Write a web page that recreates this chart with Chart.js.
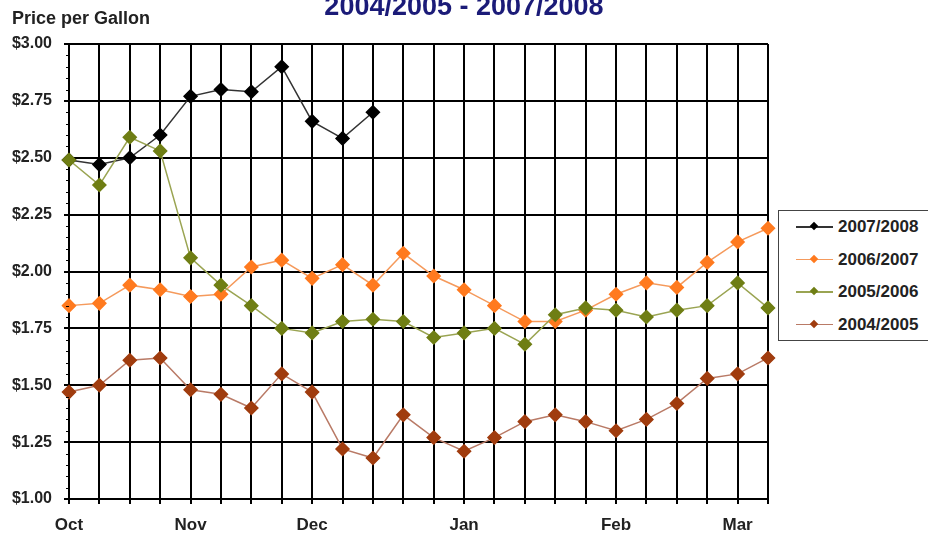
<!DOCTYPE html>
<html>
<head>
<meta charset="utf-8">
<script src="https://cdn.jsdelivr.net/npm/chart.js@4"></script>
<style>
  body { margin: 0; background: #fff; font-family: "Liberation Sans", Arial, sans-serif; }
  #wrap { position: relative; width: 928px; height: 538px; overflow: hidden; }
  #title { position: absolute; left: 0; width: 928px; top: -9px; text-align: center;
           font-weight: bold; font-size: 27px; color: #1b1b78; }
  #ylab { position: absolute; left: 12px; top: 8px; font-weight: bold; font-size: 18px; color: #222; }
  #legend { position: absolute; left: 778px; top: 210px; width: 160px; height: 131px;
            border: 1.5px solid #444; box-sizing: border-box; background: #fff; }
  .row { position: absolute; left: 0; height: 20px; }
  .row .ln { position: absolute; left: 17px; top: 9px; width: 37px; height: 1.5px; }
  .row .mk { position: absolute; left: 32px; top: 6px; width: 6px; height: 6px; transform: rotate(45deg); }
  .row .tx { position: absolute; left: 59px; top: 0; font-weight: bold; font-size: 17px; color: #222; white-space: nowrap; }
</style>
</head>
<body>
<div id="wrap">
  <canvas id="myChart" width="928" height="538"></canvas>
  <div id="title">2004/2005 - 2007/2008</div>
  <div id="ylab">Price per Gallon</div>
  <div id="legend"></div>
</div>
<script>
let weeks = ['Oct', '', '', '', 'Nov', '', '', '', 'Dec', '', '', '', '', 'Jan', '', '', '', '', 'Feb', '', '', '', 'Mar', ''];
let seasons = ['2007/2008', '2006/2007', '2005/2006', '2004/2005'];
let price0708 = [2.49, 2.47, 2.50, 2.60, 2.77, 2.80, 2.79, 2.90, 2.66, 2.585, 2.70];
let price0607 = [1.85, 1.86, 1.94, 1.92, 1.89, 1.90, 2.02, 2.05, 1.97, 2.03, 1.94, 2.08,
                 1.98, 1.92, 1.85, 1.78, 1.78, 1.83, 1.90, 1.95, 1.93, 2.04, 2.13, 2.19];
let price0506 = [2.49, 2.38, 2.59, 2.53, 2.06, 1.94, 1.85, 1.75, 1.73, 1.78, 1.79, 1.78,
                 1.71, 1.73, 1.75, 1.68, 1.81, 1.84, 1.83, 1.80, 1.83, 1.85, 1.95, 1.84];
let price0405 = [1.47, 1.50, 1.61, 1.62, 1.48, 1.46, 1.40, 1.55, 1.47, 1.22, 1.18, 1.37,
                 1.27, 1.21, 1.27, 1.34, 1.37, 1.34, 1.30, 1.35, 1.42, 1.53, 1.55, 1.62];
let markerColors = ['#000000', '#ff7a1f', '#6f7e14', '#a03c0e'];
let lineColors = ['#333333', '#f59a5c', '#9aa452', '#b97a66'];
let drawOrder = [2, 3, 1, 4];
let series = [price0708, price0607, price0506, price0405];

// html legend with line + diamond
let legendEl = document.getElementById('legend');
seasons.forEach((name, i) => {
  let row = document.createElement('div');
  row.className = 'row';
  row.style.top = (6 + i * 32.5) + 'px';
  row.innerHTML = '<span class="ln" style="background:' + lineColors[i] + '"></span>' +
    '<span class="mk" style="background:' + markerColors[i] + '"></span>' +
    '<span class="tx">' + name + '</span>';
  legendEl.appendChild(row);
});

// small ticks every $0.05 on the y axis
let minorTicks = {
  id: 'minorTicks',
  afterDraw(chart) {
    let y = chart.scales.y;
    let c = chart.ctx;
    c.save();
    c.strokeStyle = '#000';
    c.lineWidth = 1;
    for (let k = 0; k <= 40; k++) {
      if (k % 5 === 0) continue;
      let py = Math.round(y.getPixelForValue(1 + k * 0.05)) + 0.5;
      c.beginPath();
      c.moveTo(y.right - 3, py);
      c.lineTo(y.right, py);
      c.stroke();
    }
    c.restore();
  }
};

let ctx = document.getElementById('myChart').getContext('2d');
let myChart = new Chart(ctx, {
  type: 'line',
  data: {
    labels: weeks,
    datasets: seasons.map((name, i) => ({
      label: name,
      data: series[i],
      borderColor: lineColors[i],
      backgroundColor: markerColors[i],
      pointBackgroundColor: markerColors[i],
      pointBorderColor: markerColors[i],
      pointStyle: 'rectRot',
      pointRadius: 6.5,
      borderWidth: 1.5,
      tension: 0,
      order: drawOrder[i]
    }))
  },
  options: {
    responsive: false,
    animation: false,
    layout: { padding: { left: 0, right: 160, top: 44, bottom: 0 } },
    plugins: {
      legend: { display: false },
      tooltip: { enabled: false }
    },
    scales: {
      x: {
        offset: false,
        grid: { color: '#000', lineWidth: 2, tickLength: 5, drawOnChartArea: true },
        border: { color: '#000', width: 2 },
        ticks: {
          autoSkip: false, maxRotation: 0, padding: 11, color: '#222',
          font: { family: 'Liberation Sans', size: 17, weight: 'bold' }
        },
        afterFit: (scale) => { scale.height = 39; }
      },
      y: {
        min: 1, max: 3,
        grid: { color: '#000', lineWidth: 2, tickLength: 5 },
        border: { color: '#000', width: 2 },
        ticks: {
          stepSize: 0.25, padding: 12, color: '#222',
          font: { family: 'Liberation Sans', size: 16, weight: 'bold' },
          callback: (v) => '$' + v.toFixed(2)
        },
        afterFit: (scale) => { scale.width = 69; }
      }
    }
  },
  plugins: [minorTicks]
});
</script>
</body>
</html>
